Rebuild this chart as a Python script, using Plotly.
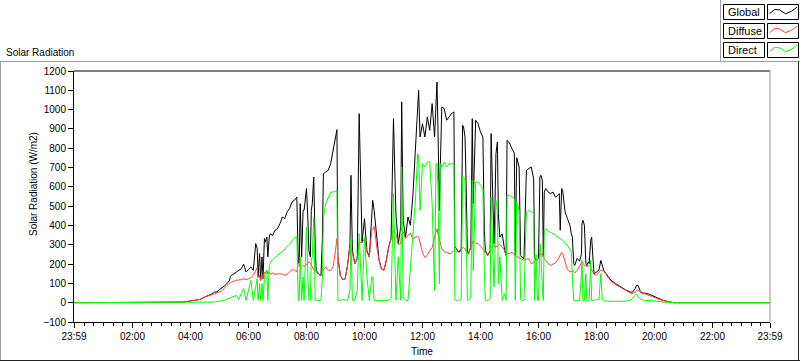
import plotly.graph_objects as go

# ---------------- data (minutes after midnight, W/m2) ----------------
T_DAWN = [0, 215, 218, 225, 230, 240, 250, 260, 270, 275, 280, 285, 290, 295, 300, 305, 310, 315, 320, 323]
G_DAWN = [0, 0, 1, 3, 5, 8, 12, 17, 30, 35, 40, 46, 55, 56, 68, 76, 86, 98, 112, 136]
D_DAWN = [0, 0, 1, 3, 5, 8, 12, 17, 30, 33, 37, 42, 46, 50, 54, 62, 75, 90, 100, 104]
B_DAWN = [0, 0, 0, 0, 0, 0, 0, 0, 0, 1, 2, 3, 4, 5, 6, 9, 13, 17, 22, 25]

T_MORN = [325, 330, 335, 340, 345, 350, 355, 360, 365, 370, 375, 378, 380, 383, 385, 388, 390, 393, 395, 398,
          400, 403, 405, 410, 415, 420, 425, 430, 435, 440, 445, 450, 455, 460, 463, 465, 467, 470, 473, 475,
          478, 480, 483, 485, 488, 490, 492, 495, 498, 500, 505, 510, 513, 515, 520, 525]
G_MORN = [142, 150, 159, 168, 176, 199, 159, 171, 185, 168, 306, 280, 133, 254, 116, 237, 124, 332, 314, 340,
          237, 340, 357, 348, 375, 383, 409, 444, 435, 470, 487, 522, 530, 547, 210, 205, 513, 237, 478, 478,
          547, 591, 427, 271, 237, 478, 513, 651, 306, 168, 150, 140, 340, 668, 677, 686]
D_MORN = [107, 112, 116, 116, 119, 124, 119, 124, 130, 142, 171, 181, 130, 142, 116, 142, 122, 159, 154, 168,
          150, 159, 147, 154, 147, 150, 150, 147, 142, 147, 159, 171, 168, 159, 206, 202, 185, 185, 193, 188,
          193, 199, 206, 211, 206, 193, 185, 171, 168, 159, 147, 138, 154, 171, 185, 168]
B_MORN = [29, 33, 38, 16, 47, 73, 12, 64, 116, 12, 98, 124, 12, 98, 12, 98, 12, 133, 150, 168,
          12, 193, 206, 223, 233, 245, 257, 262, 280, 292, 302, 323, 337, 344, 12, 12, 237, 12, 133, 12,
          271, 392, 133, 12, 12, 219, 237, 444, 12, 12, 12, 12, 133, 444, 513, 539]

T_NOON = [530, 535, 540, 543, 545, 550, 555, 560, 565, 570, 572, 575, 580, 585, 589, 595, 600, 605, 610, 615,
          617, 620, 625, 630, 635, 640, 645, 650, 655, 660, 665, 670, 675, 677, 680, 685, 690, 695, 700, 705,
          710, 712, 715, 720, 725, 730, 735]
G_NOON = [720, 789, 876, 896, 237, 142, 119, 124, 193, 306, 660, 271, 202, 228, 979, 314, 435, 271, 237, 470,
          530, 478, 340, 225, 176, 168, 216, 288, 332, 953, 461, 306, 392, 1040, 427, 340, 444, 401, 547, 772,
          1031, 1100, 858, 927, 858, 962, 893]
D_NOON = [167, 185, 271, 332, 237, 142, 119, 124, 193, 292, 280, 257, 200, 225, 314, 309, 332, 262, 235, 375,
          380, 395, 297, 220, 174, 168, 214, 285, 332, 375, 357, 302, 306, 349, 366, 332, 349, 361, 332, 340,
          344, 340, 314, 262, 233, 245, 271]
B_NOON = [573, 573, 578, 582, 12, 12, 16, 12, 12, 64, 332, 12, 12, 64, 357, 12, 340, 133, 12, 133,
          133, 12, 12, 12, 12, 12, 12, 12, 21, 565, 12, 237, 12, 703, 29, 12, 12, 167, 340, 513,
          772, 755, 478, 720, 703, 729, 729]

T_AFT = [740, 745, 748, 750, 752, 755, 757, 760, 765, 770, 775, 780, 785, 787, 790, 795, 800, 803, 805, 808,
         810, 813, 815, 820, 823, 825, 830, 835, 840, 845, 848, 850, 855, 860, 862, 865, 868, 870, 872, 875,
         877, 880, 885, 890, 893, 895, 900, 905, 910, 912, 915, 920, 923, 925, 930, 935, 940]
G_AFT = [1031, 858, 1100, 1143, 910, 478, 720, 1014, 1005, 945, 962, 979, 988, 288, 280, 262, 271, 919, 910, 858,
         651, 262, 254, 288, 953, 513, 945, 927, 884, 858, 375, 271, 245, 271, 876, 599, 306, 513, 772, 832,
         461, 340, 357, 271, 245, 841, 827, 798, 775, 245, 751, 703, 245, 237, 228, 686, 694]
D_AFT = [285, 340, 375, 383, 357, 332, 306, 280, 262, 262, 254, 257, 271, 275, 268, 266, 280, 283, 285, 280,
         268, 262, 250, 288, 310, 320, 309, 306, 292, 275, 265, 262, 244, 268, 290, 295, 300, 288, 290, 292,
         295, 302, 288, 271, 244, 257, 254, 261, 250, 245, 240, 233, 230, 226, 219, 225, 228]
B_AFT = [513, 64, 720, 720, 600, 98, 720, 703, 729, 703, 720, 717, 724, 16, 12, 12, 16, 651, 651, 634,
         340, 12, 12, 29, 634, 167, 625, 625, 608, 591, 167, 12, 12, 21, 547, 340, 81, 254, 530, 478,
         98, 237, 12, 47, 12, 556, 556, 547, 539, 12, 522, 478, 16, 12, 12, 470, 478]

T_EVE = [945, 950, 952, 955, 958, 960, 963, 965, 968, 970, 972, 975, 980, 985, 990, 995, 1000, 1003, 1005, 1008,
         1010, 1015, 1020, 1025, 1028, 1030, 1033, 1035, 1040, 1045, 1049, 1050, 1052, 1055, 1058, 1060, 1063, 1065, 1068, 1070,
         1073, 1075, 1080, 1085, 1089, 1092, 1095, 1100, 1110, 1120, 1130, 1140, 1150, 1155, 1160, 1163, 1166, 1170, 1175, 1180,
         1190, 1200, 1210, 1220, 1230, 1240, 1439]
G_EVE = [703, 642, 237, 219, 225, 228, 651, 660, 634, 237, 573, 591, 573, 565, 573, 547, 556, 565, 375, 591,
         582, 470, 435, 401, 358, 340, 202, 193, 230, 215, 254, 409, 427, 401, 202, 193, 211, 202, 323, 340,
         219, 150, 159, 168, 219, 193, 168, 150, 116, 98, 81, 67, 55, 55, 73, 90, 90, 64, 50, 50,
         43, 33, 21, 10, 5, 0, 0]
D_EVE = [202, 207, 215, 219, 225, 228, 245, 254, 252, 237, 230, 219, 202, 193, 198, 206, 223, 235, 250, 262,
         254, 211, 171, 159, 162, 164, 160, 154, 168, 193, 205, 211, 205, 193, 190, 188, 190, 193, 180, 168,
         155, 147, 142, 154, 168, 166, 164, 145, 111, 93, 78, 64, 50, 47, 54, 64, 67, 54, 45, 46,
         38, 27, 16, 10, 3, 0, 0]
B_EVE = [470, 461, 12, 250, 12, 12, 306, 254, 81, 12, 375, 383, 371, 366, 357, 349, 340, 336, 332, 328,
         323, 306, 297, 275, 262, 133, 12, 12, 12, 12, 150, 219, 12, 12, 150, 12, 12, 12, 219, 12,
         12, 12, 16, 15, 150, 15, 10, 8, 7, 7, 7, 8, 12, 25, 40, 45, 30, 20, 15, 10,
         12, 8, 5, 3, 2, 0, 0]

TICK_VALUES = [-1, 120, 240, 360, 480, 600, 720, 840, 960, 1080, 1200, 1320, 1439]
TICK_LABELS = ["23:59", "02:00", "04:00", "06:00", "08:00", "10:00", "12:00", "14:00",
               "16:00", "18:00", "20:00", "22:00", "23:59"]
SERIES_NAMES = ["Global", "Diffuse", "Direct"]
SERIES_COLORS = ["#000000", "#ff4040", "#00ff00"]

# ---------------- assemble ----------------
segs = [(T_DAWN, G_DAWN, D_DAWN, B_DAWN), (T_MORN, G_MORN, D_MORN, B_MORN),
        (T_NOON, G_NOON, D_NOON, B_NOON), (T_AFT, G_AFT, D_AFT, B_AFT),
        (T_EVE, G_EVE, D_EVE, B_EVE)]
times, glob, diff, dire = [], [], [], []
for t, g, d, b in segs:
    assert len(t) == len(g) == len(d) == len(b), (len(t), len(g), len(d), len(b))
    times += t; glob += g; diff += d; dire += b
series = [glob, diff, dire]

W, H = 800, 361
L, R, TM, BM = 74, 30, 71, 39
PW, PH = W - L - R, H - TM - BM

def xp(px):
    return (px - L) / PW

def yp(py):
    return (H - BM - py) / PH

fig = go.Figure()
for name, vals, col in zip(SERIES_NAMES, series, SERIES_COLORS):
    fig.add_trace(go.Scatter(x=times, y=vals, mode="lines", name=name,
                             line=dict(color=col, width=1), hoverinfo="skip"))

FONT = "Liberation Sans, Arial, sans-serif"
minor_vals = [v for v in range(0, 1440, 20) if v not in TICK_VALUES]

fig.update_layout(
    width=W, height=H, margin=dict(l=L, r=R, t=TM, b=BM, pad=0),
    paper_bgcolor="white", plot_bgcolor="white", showlegend=False,
    font=dict(family=FONT, size=10, color="black"),
    xaxis=dict(range=[-1, 1439], tickmode="array", tickvals=TICK_VALUES, ticktext=TICK_LABELS,
               ticks="outside", ticklen=5, tickwidth=1, tickcolor="black",
               showline=True, linecolor="black", linewidth=1, showgrid=False, zeroline=False,
               tickfont=dict(family=FONT, size=10, color="black"),
               minor=dict(tickmode="array", tickvals=minor_vals, ticks="outside", ticklen=3,
                          tickwidth=1, tickcolor="black", showgrid=False)),
    yaxis=dict(range=[-100, 1200], tickmode="linear", tick0=0, dtick=100,
               ticks="outside", ticklen=5, tickwidth=1, tickcolor="black",
               showline=True, linecolor="black", linewidth=1, showgrid=False, zeroline=False,
               tickfont=dict(family=FONT, size=10, color="black")),
)

shapes = []
# plot frame top (black) and right (gray)
shapes.append(dict(type="line", xref="paper", yref="paper", x0=0, x1=1, y0=1, y1=1,
                   line=dict(color="black", width=1)))
shapes.append(dict(type="line", xref="paper", yref="paper", x0=1, x1=1, y0=0, y1=1,
                   line=dict(color="#909090", width=1)))
# outer frame
shapes.append(dict(type="line", xref="paper", yref="paper", x0=xp(0), x1=xp(800), y0=yp(61.5), y1=yp(61.5),
                   line=dict(color="#a0a0a0", width=1)))
shapes.append(dict(type="line", xref="paper", yref="paper", x0=xp(0.5), x1=xp(0.5), y0=yp(61.5), y1=yp(361),
                   line=dict(color="#a0a0a0", width=1)))
shapes.append(dict(type="line", xref="paper", yref="paper", x0=xp(0), x1=xp(800), y0=yp(360.5), y1=yp(360.5),
                   line=dict(color="#202020", width=1)))
shapes.append(dict(type="line", xref="paper", yref="paper", x0=xp(798.5), x1=xp(798.5), y0=yp(61.5), y1=yp(361),
                   line=dict(color="#202020", width=1)))
# legend panel left border
shapes.append(dict(type="line", xref="paper", yref="paper", x0=xp(720.5), x1=xp(720.5), y0=yp(0), y1=yp(61.5),
                   line=dict(color="#a0a0a0", width=1)))

annotations = []
row_tops = [4.5, 23.5, 42.5]
zig_dx = [2, 7, 12, 18, 24, 29.5]
zig_dy = [9.3, 5.0, 5.3, 9.3, 6.7, 2.7]
for name, col, top in zip(SERIES_NAMES, SERIES_COLORS, row_tops):
    bot = top + 15
    shapes.append(dict(type="rect", xref="paper", yref="paper", x0=xp(723.5), x1=xp(764.5),
                       y0=yp(bot), y1=yp(top), line=dict(color="black", width=1), fillcolor="white"))
    shapes.append(dict(type="rect", xref="paper", yref="paper", x0=xp(767.5), x1=xp(798.5),
                       y0=yp(bot), y1=yp(top), line=dict(color="black", width=1), fillcolor="white"))
    path = "M " + " L ".join(f"{xp(767.5 + dx):.5f},{yp(top + dy):.5f}" for dx, dy in zip(zig_dx, zig_dy))
    shapes.append(dict(type="path", xref="paper", yref="paper", path=path,
                       line=dict(color=col, width=1)))
    annotations.append(dict(text=name, xref="paper", yref="paper", x=xp(726), y=yp(top + 7.5),
                            xanchor="left", yanchor="middle", showarrow=False,
                            font=dict(family=FONT, size=11, color="black")))

annotations.append(dict(text="Solar Radiation", xref="paper", yref="paper", x=xp(4), y=yp(52),
                        xanchor="left", yanchor="middle", showarrow=False,
                        font=dict(family=FONT, size=10, color="black")))
annotations.append(dict(text="Solar Radiation (W/m2)", xref="paper", yref="paper", x=xp(33), y=yp(184),
                        xanchor="center", yanchor="middle", textangle=-90, showarrow=False,
                        font=dict(family=FONT, size=10, color="black")))
annotations.append(dict(text="Time", xref="paper", yref="paper", x=xp(422), y=yp(351),
                        xanchor="center", yanchor="middle", showarrow=False,
                        font=dict(family=FONT, size=10, color="black")))

fig.update_layout(shapes=shapes, annotations=annotations)
fig.write_html("out.html", config={"displayModeBar": False},
               post_script="document.body.style.margin='0';document.body.style.padding='0';"
                           "document.body.style.overflow='hidden';")
